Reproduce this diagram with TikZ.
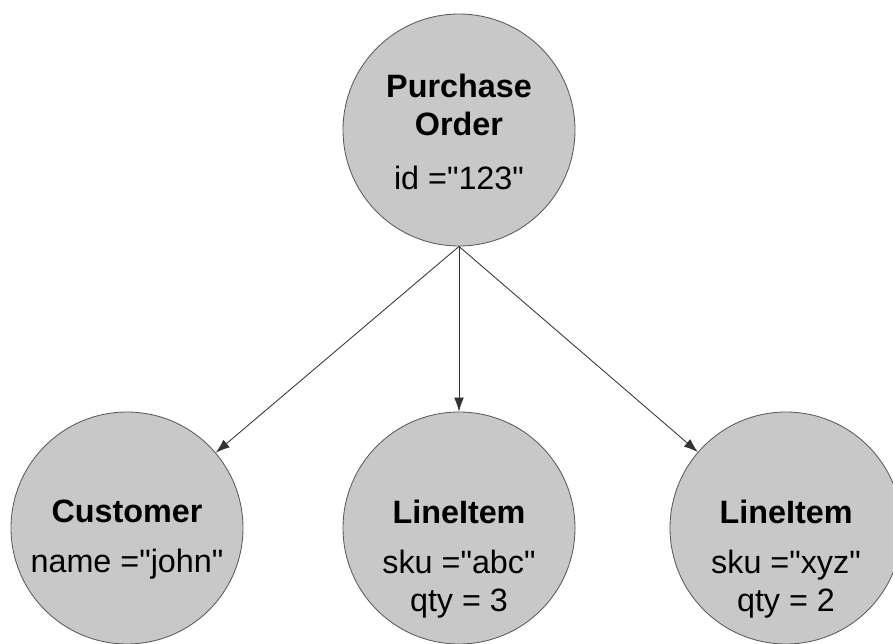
\documentclass[tikz,border=0pt]{standalone}
\usepackage{fontspec}
\newfontfamily\objfont{Liberation Sans}
\usepackage{tikz}
\usetikzlibrary{arrows.meta,positioning}
\definecolor{objfill}{RGB}{200,200,200}
\definecolor{objline}{RGB}{90,90,90}
\tikzset{
    object/.style={circle, draw=objline, fill=objfill, line width=0.6pt, minimum size=5.8cm, inner sep=0pt},
    objtext/.style={align=center, inner sep=0pt, font=\objfont\fontsize{23}{26.5}\selectfont},
    link/.style={draw=black!80, line width=0.6pt, -{Latex[length=10pt,width=7pt]}}
}

\begin{document}
\begin{tikzpicture}
    \useasboundingbox (0,0) rectangle (22.325,16.075);

    % Nodes
    \node[object] (po) at (11.475,12.825) {};
    \node[object] (cust) at (3.175,2.875) {};
    \node[object] (item1) at (11.475,2.875) {};
    \node[object] (item2) at (19.65,2.875) {};

    % texts
    \node[objtext] (po-text) at ([yshift=-0.05cm]po.center)
        {\textbf{Purchase}\\\textbf{Order}\\[12pt]id ="123"};
    \node[objtext] (cust-text) at ([yshift=-0.3cm]cust.center)
        {\textbf{Customer}\\[9pt]name ="john"};
    \node[objtext] (item1-text) at ([yshift=-0.78cm]item1.center)
        {\textbf{LineItem}\\[9pt]sku ="abc"\\qty = 3};
    \node[objtext] (item2-text) at ([yshift=-0.78cm]item2.center)
        {\textbf{LineItem}\\[9pt]sku ="xyz"\\qty = 2};

    % edges
    \draw[link] (po.south) -- (cust);
    \draw[link] (po.south) -- (item1);
    \draw[link] (po.south) -- (item2);
\end{tikzpicture}
\end{document}
